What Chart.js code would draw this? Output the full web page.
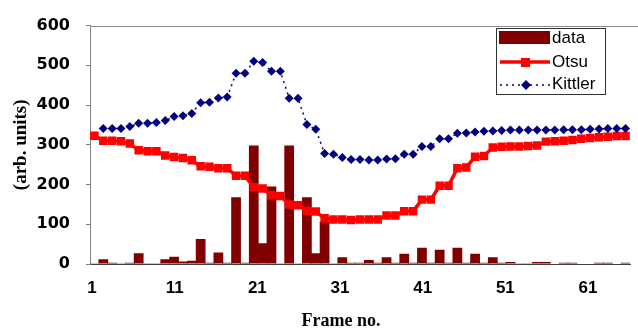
<!DOCTYPE html>
<html>
<head>
<meta charset="utf-8">
<script src="https://cdn.jsdelivr.net/npm/chart.js@4.4.0/dist/chart.umd.min.js"></script>
<style>
  html, body { margin: 0; padding: 0; background: #fff; }
  #wrap { width: 638px; height: 331px; }
</style>
</head>
<body>
<div id="wrap"><canvas id="frameChart" width="638" height="331"></canvas></div>
<script>
// frame numbers (categories)
const frames = ['1','2','3','4','5','6','7','8','9','10','11','12','13','14','15','16','17','18','19','20',
  '21','22','23','24','25','26','27','28','29','30','31','32','33','34','35','36','37','38','39','40',
  '41','42','43','44','45','46','47','48','49','50','51','52','53','54','55','56','57','58','59','60','61'];
const frameTicks = [1, 11, 21, 31, 41, 51, 61];
const yTicks = [0, 100, 200, 300, 400, 500, 600];

// series
const dataValues = [2,12,3,2,3,27,2,2,12,18, 6,8,63,3,29,3,168,3,298,52,
  195,2,298,2,168,27,107,2,17,3, 3,10,3,17,3,26,3,41,3,36,
  3,41,3,26,3,17,3,5,2,2, 5,5,1,3,3,1,1,3,3,1, 3];
const otsu = [323,310,310,309,303,286,284,284,273,269, 267,261,246,245,241,241,222,222,193,190,
  173,171,150,148,134,132,115,112,112,111, 112,112,112,122,122,133,133,162,162,197,
  197,241,243,270,272,293,295,296,296,297, 298,308,309,310,312,315,317,319,320,322, 322];
const kittler = [null,341,341,341,346,354,354,356,361,371, 373,379,406,407,418,420,480,480,510,507,
  485,485,417,417,351,339,278,276,268,263, 263,262,262,264,265,276,276,296,296,315,
  315,329,330,332,334,335,336,337,337,337, 337,337,337,338,338,338,339,340,341,341, 341];

const xTitle = 'Frame no.';

// legend box, top frame line and x title
const extras = {
  id: 'extras',
  afterDraw(chart) {
    const ctx = chart.ctx;
    const a = chart.chartArea;
    const ds = chart.data.datasets;
    ctx.save();
    ctx.strokeStyle = '#8c8c8c';
    ctx.lineWidth = 1;
    ctx.beginPath();
    ctx.moveTo(a.left, Math.round(a.top) + 0.5);
    ctx.lineTo(chart.width, Math.round(a.top) + 0.5);
    ctx.stroke();

    // legend
    const bx = 496, by = 28, bw = 109, bh = 66;
    ctx.fillStyle = '#fff';
    ctx.fillRect(bx, by, bw, bh);
    ctx.strokeStyle = '#333';
    ctx.strokeRect(bx + 0.5, by + 0.5, bw, bh);
    ctx.font = '17px "Liberation Sans", Arial, sans-serif';
    ctx.textBaseline = 'middle';
    ctx.textAlign = 'left';

    ctx.fillStyle = ds[0].backgroundColor;
    ctx.fillRect(499, 31, 51, 13);
    ctx.fillStyle = '#000';
    ctx.fillText(ds[0].label, 552, 38);

    ctx.strokeStyle = ds[1].borderColor;
    ctx.lineWidth = 3.5;
    ctx.beginPath(); ctx.moveTo(500, 62); ctx.lineTo(550, 62); ctx.stroke();
    ctx.fillStyle = ds[1].borderColor;
    ctx.fillRect(521, 58, 9, 9);
    ctx.fillStyle = '#000';
    ctx.fillText(ds[1].label, 552, 62);

    ctx.strokeStyle = ds[2].borderColor;
    ctx.lineWidth = 1.5;
    ctx.setLineDash([2, 4]);
    ctx.beginPath(); ctx.moveTo(500, 85); ctx.lineTo(550, 85); ctx.stroke();
    ctx.setLineDash([]);
    ctx.fillStyle = ds[2].borderColor;
    ctx.beginPath();
    ctx.moveTo(526, 80); ctx.lineTo(531, 85); ctx.lineTo(526, 90); ctx.lineTo(521, 85);
    ctx.closePath(); ctx.fill();
    ctx.fillStyle = '#000';
    ctx.fillText(ds[2].label, 552, 84);

    // x axis title
    ctx.font = 'bold 18px "Liberation Serif", "Times New Roman", serif';
    ctx.textAlign = 'center';
    ctx.fillText(xTitle, 341, 321);
    ctx.restore();
  }
};

const ctx = document.getElementById('frameChart').getContext('2d');
new Chart(ctx, {
  data: {
    labels: frames,
    datasets: [
      { type: 'bar', label: 'data', data: dataValues, backgroundColor: '#800000',
        barPercentage: 1.1, categoryPercentage: 1, order: 3 },
      { type: 'line', label: 'Otsu', data: otsu, borderColor: '#ff0000', backgroundColor: '#ff0000',
        borderWidth: 3.5, pointStyle: 'rect', pointRadius: 6, pointBorderWidth: 0, tension: 0, order: 2 },
      { type: 'line', label: 'Kittler', data: kittler, borderColor: '#000080', backgroundColor: '#000080',
        borderWidth: 1.5, borderDash: [2, 4], pointStyle: 'rectRot', pointRadius: 4.5, pointBorderWidth: 0,
        tension: 0, order: 1 }
    ]
  },
  options: {
    responsive: false,
    animation: false,
    layout: { padding: { left: 0, right: 8, top: 18, bottom: 0 } },
    plugins: { legend: { display: false }, tooltip: { enabled: false } },
    scales: {
      x: {
        type: 'category',
        offset: true,
        grid: { display: false },
        border: { display: false },
        ticks: { display: false },
        afterFit: s => { s.height = 0; }
      },
      xt: {
        type: 'linear',
        position: 'bottom',
        min: 0.758,
        max: 66.08,
        grid: { display: false, drawTicks: false },
        border: { display: true, color: '#404040', width: 1 },
        ticks: {
          padding: 14,
          color: '#000',
          font: { family: '"Liberation Sans", Arial, sans-serif', size: 17, weight: 'bold' },
          maxRotation: 0,
          autoSkip: false
        },
        afterBuildTicks: s => { s.ticks = frameTicks.map(v => ({ value: v })); },
        afterFit: s => { s.height = 331 - 264; }
      },
      y: {
        min: 0,
        max: 600,
        grid: { display: true, drawOnChartArea: false, tickLength: 4, color: '#808080' },
        border: { display: true, color: '#808080', width: 1 },
        ticks: {
          padding: 16,
          color: '#000',
          font: { family: '"DejaVu Sans", sans-serif', size: 16, weight: 'bold' }
        },
        afterBuildTicks: s => { s.ticks = yTicks.map(v => ({ value: v })); },
        title: {
          display: true,
          text: '(arb. units)',
          color: '#000',
          font: { family: '"Liberation Serif", "Times New Roman", serif', size: 19, weight: 'bold' },
          padding: { top: 10, bottom: 0 }
        },
        afterFit: s => { s.width = 90; }
      }
    }
  },
  plugins: [extras]
});
</script>
</body>
</html>
